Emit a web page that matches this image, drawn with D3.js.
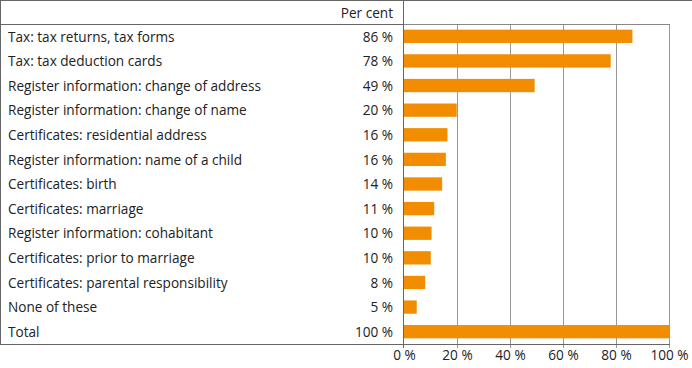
<!DOCTYPE html>
<html><head><meta charset="utf-8">
<script src="https://cdn.jsdelivr.net/npm/d3@7"></script>
<style>
html,body{margin:0;padding:0;background:#fff;}
text{font-family:"Open Sans",sans-serif;fill:#222;}
</style></head>
<body>
<svg id="chart" width="692" height="368"></svg>
<script>
const categories = [
  "Tax: tax returns, tax forms",
  "Tax: tax deduction cards",
  "Register information: change of address",
  "Register information: change of name",
  "Certificates: residential address",
  "Register information: name of a child",
  "Certificates: birth",
  "Certificates: marriage",
  "Register information: cohabitant",
  "Certificates: prior to marriage",
  "Certificates: parental responsibility",
  "None of these",
  "Total"
];
const values = [86.2, 78, 49.3, 19.9, 16.4, 15.8, 14.4, 11.4, 10.4, 10.1, 8.0, 4.8, 100];
const valueLabels = ["86 %","78 %","49 %","20 %","16 %","16 %","14 %","11 %","10 %","10 %","8 %","5 %","100 %"];
const tickValues = [0, 20, 40, 60, 80, 100];
const headerLabel = "Per cent";

(function(){
const svg = d3.select("#chart");
const fs = 13.6;
const pLeft = 404, pRight = 669, pTop = 24, pBottom = 344;
const x = d3.scaleLinear().domain([0, 100]).range([pLeft, pRight]);
const y = d3.scaleBand().domain(categories).range([pTop, pBottom]).paddingInner(0.46).paddingOuter(0.23);

// gridlines
svg.append("g").selectAll("line").data(tickValues.slice(1)).join("line")
  .attr("x1", d => Math.round(x(d)) + 0.5).attr("x2", d => Math.round(x(d)) + 0.5)
  .attr("y1", pTop).attr("y2", pBottom + 4)
  .attr("stroke", "#999").attr("stroke-width", 1);

// plot top line
svg.append("line").attr("x1", pLeft).attr("x2", pRight + 1).attr("y1", pTop + 0.5).attr("y2", pTop + 0.5)
  .attr("stroke", "#888");

// bars
svg.append("g").selectAll("rect").data(categories).join("rect")
  .attr("x", x(0)).attr("y", d => y(d))
  .attr("width", (d, i) => x(values[i]) - x(0))
  .attr("height", y.bandwidth())
  .attr("fill", "#F28C00");

// table frame
const frame = svg.append("g").attr("stroke", "#666").attr("stroke-width", 1);
frame.append("line").attr("x1", 0).attr("x2", 692).attr("y1", 0.5).attr("y2", 0.5);
frame.append("line").attr("x1", 0.5).attr("x2", 0.5).attr("y1", 0).attr("y2", pBottom + 0.5);
frame.append("line").attr("x1", 0).attr("x2", pLeft).attr("y1", pTop + 0.5).attr("y2", pTop + 0.5);
frame.append("line").attr("x1", 0).attr("x2", pRight + 1).attr("y1", pBottom + 0.5).attr("y2", pBottom + 0.5);
frame.append("line").attr("x1", pLeft - 0.5).attr("x2", pLeft - 0.5).attr("y1", 0).attr("y2", pBottom + 4);

// header
svg.append("text").attr("x", 393).attr("y", 13).attr("dy", "0.35em")
  .attr("text-anchor", "end").attr("font-size", fs).text(headerLabel);

// category labels
svg.append("g").selectAll("text").data(categories).join("text")
  .attr("x", 8).attr("y", d => y(d) + y.bandwidth() / 2 + 0.5).attr("dy", "0.35em")
  .attr("font-size", fs).text(d => d);

// value labels
svg.append("g").selectAll("text").data(categories).join("text")
  .attr("x", 393).attr("y", d => y(d) + y.bandwidth() / 2 + 0.5).attr("dy", "0.35em")
  .attr("text-anchor", "end").attr("font-size", fs).text((d, i) => valueLabels[i]);

// x axis labels
const axis = d3.axisBottom(x).tickValues(tickValues).tickSize(0).tickPadding(0).tickFormat(d => d + " %");
const ax = svg.append("g").attr("transform", `translate(0,${pBottom + 4})`).call(axis);
ax.select(".domain").remove();
ax.selectAll("text").attr("font-size", fs).attr("font-family", "Open Sans, sans-serif").attr("fill", "#222").attr("dy", "0.9em");
})();
</script>
</body></html>
